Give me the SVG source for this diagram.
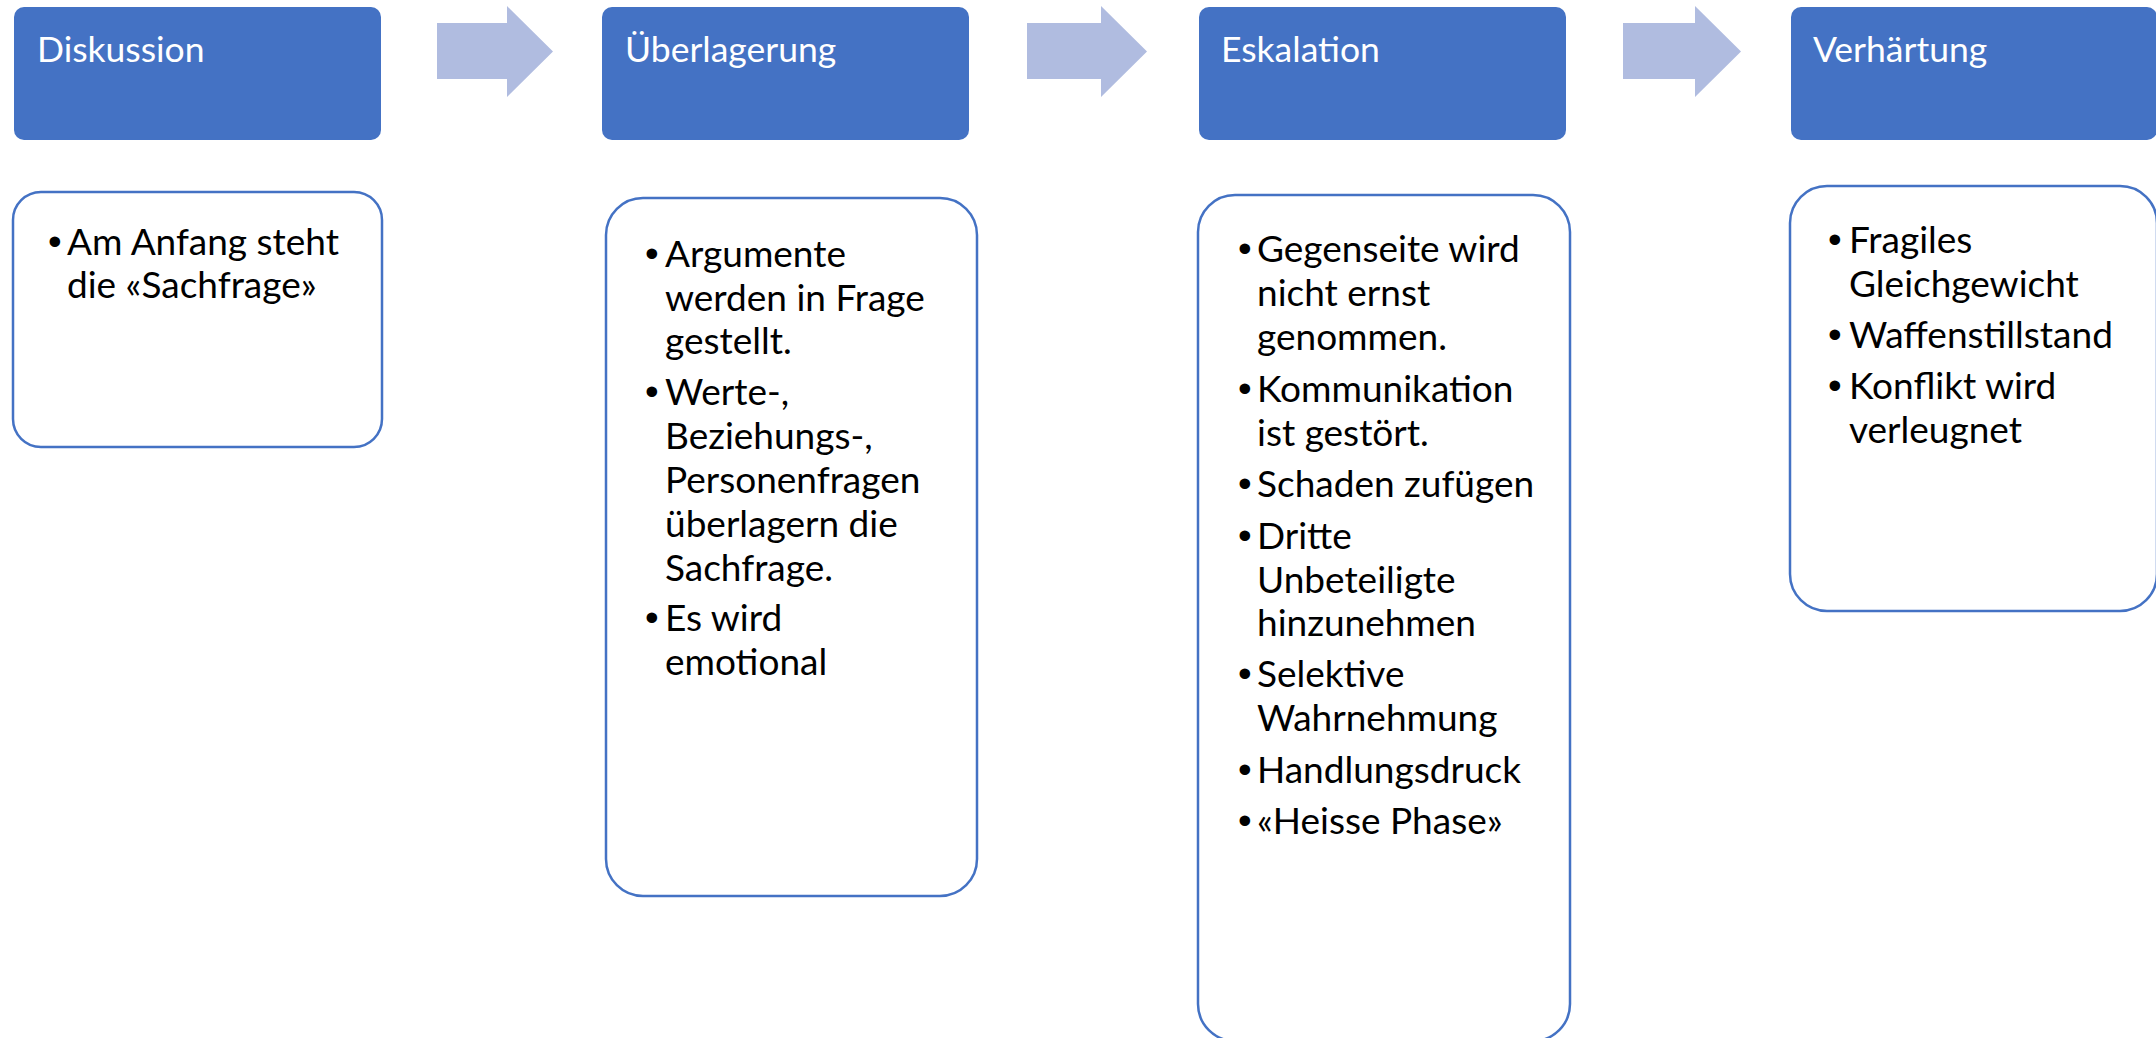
<svg xmlns="http://www.w3.org/2000/svg" width="2156" height="1038" viewBox="0 0 2156 1038">
<style>
.hdr{fill:#4472C4}
.hdrt{fill:#FFFFFF;font-family:Lato,"Open Sans",sans-serif;font-size:35.5px}
.body{fill:#FFFFFF;stroke:#4472C4;stroke-width:2.5}
.bt{fill:#000000;font-family:Lato,"Open Sans",sans-serif;font-size:37px}
.bul{fill:#000000;font-family:"Liberation Sans",Arial,sans-serif;font-size:39px}
.arr{fill:#B0BCE0}
</style>
<rect width="2156" height="1038" fill="#FFFFFF"/>
<g id="connectors">
<path class="arr" d="M437,23 H507 V6 L553,51.5 L507,97 V79 H437 Z"/>
<path class="arr" d="M1027,23 H1101 V6 L1147,51.5 L1101,97 V79 H1027 Z"/>
<path class="arr" d="M1623,23 H1695 V6 L1741,51.5 L1695,97 V79 H1623 Z"/>
</g>
<g id="header-diskussion">
<rect class="hdr" x="14" y="7" width="367" height="133" rx="10"/>
<text class="hdrt" x="37" y="62">Diskussion</text>
</g>
<g id="header-ueberlagerung">
<rect class="hdr" x="602" y="7" width="367" height="133" rx="10"/>
<text class="hdrt" x="625" y="62">Überlagerung</text>
</g>
<g id="header-eskalation">
<rect class="hdr" x="1199" y="7" width="367" height="133" rx="10"/>
<text class="hdrt" x="1221" y="62">Eskalation</text>
</g>
<g id="header-verhaertung">
<rect class="hdr" x="1791" y="7" width="366" height="133" rx="10"/>
<text class="hdrt" x="1813" y="62">Verhärtung</text>
</g>
<g id="body-diskussion">
<rect class="body" x="13" y="192" width="369" height="255" rx="28"/>
<text class="bul" x="48" y="255">•</text>
<text class="bt" x="67" y="255">Am Anfang steht</text>
<text class="bt" x="67" y="298">die «Sachfrage»</text>
</g>
<g id="body-ueberlagerung">
<rect class="body" x="606" y="198" width="371" height="698" rx="37"/>
<text class="bul" x="645" y="267">•</text>
<text class="bt" x="665" y="267">Argumente</text>
<text class="bt" x="665" y="311">werden in Frage</text>
<text class="bt" x="665" y="354">gestellt.</text>
<text class="bul" x="645" y="405">•</text>
<text class="bt" x="665" y="405">Werte-,</text>
<text class="bt" x="665" y="449">Beziehungs-,</text>
<text class="bt" x="665" y="493">Personenfragen</text>
<text class="bt" x="665" y="537">überlagern die</text>
<text class="bt" x="665" y="581">Sachfrage.</text>
<text class="bul" x="645" y="631">•</text>
<text class="bt" x="665" y="631">Es wird</text>
<text class="bt" x="665" y="675">emotional</text>
</g>
<g id="body-eskalation">
<rect class="body" x="1198" y="195" width="372" height="846" rx="37"/>
<text class="bul" x="1238" y="262">•</text>
<text class="bt" x="1257" y="262">Gegenseite wird</text>
<text class="bt" x="1257" y="306">nicht ernst</text>
<text class="bt" x="1257" y="350">genommen.</text>
<text class="bul" x="1238" y="402">•</text>
<text class="bt" x="1257" y="402">Kommunikation</text>
<text class="bt" x="1257" y="446">ist gestört.</text>
<text class="bul" x="1238" y="497">•</text>
<text class="bt" x="1257" y="497">Schaden zufügen</text>
<text class="bul" x="1238" y="549">•</text>
<text class="bt" x="1257" y="549">Dritte</text>
<text class="bt" x="1257" y="593">Unbeteiligte</text>
<text class="bt" x="1257" y="636">hinzunehmen</text>
<text class="bul" x="1238" y="687">•</text>
<text class="bt" x="1257" y="687">Selektive</text>
<text class="bt" x="1257" y="731">Wahrnehmung</text>
<text class="bul" x="1238" y="783">•</text>
<text class="bt" x="1257" y="783">Handlungsdruck</text>
<text class="bul" x="1238" y="834">•</text>
<text class="bt" x="1257" y="834">«Heisse Phase»</text>
</g>
<g id="body-verhaertung">
<rect class="body" x="1790" y="186" width="367" height="425" rx="37"/>
<text class="bul" x="1828" y="253">•</text>
<text class="bt" x="1849" y="253">Fragiles</text>
<text class="bt" x="1849" y="297">Gleichgewicht</text>
<text class="bul" x="1828" y="348">•</text>
<text class="bt" x="1849" y="348">Waffenstillstand</text>
<text class="bul" x="1828" y="399">•</text>
<text class="bt" x="1849" y="399">Konflikt wird</text>
<text class="bt" x="1849" y="443">verleugnet</text>
</g>
</svg>
